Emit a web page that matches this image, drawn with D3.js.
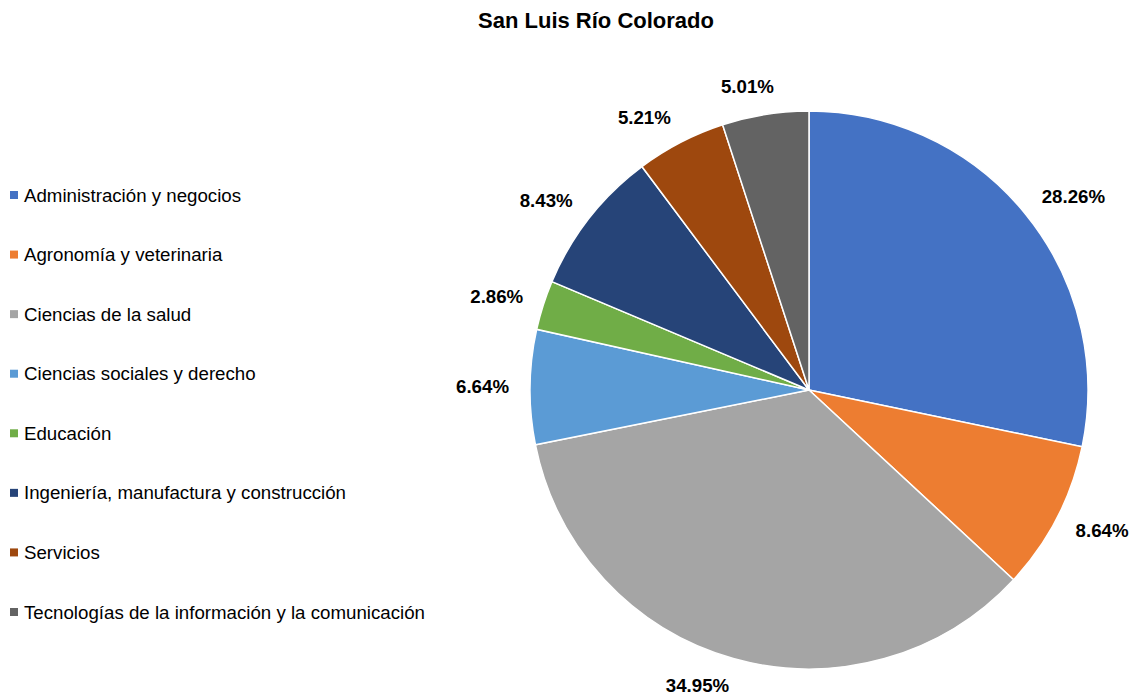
<!DOCTYPE html>
<html>
<head>
<meta charset="utf-8">
<script src="https://cdn.jsdelivr.net/npm/d3@7"></script>
<style>
  body { margin: 0; background: #fff; }
  text { font-family: "Liberation Sans", Arial, sans-serif; }
</style>
</head>
<body>
<div id="container"></div>
<script>
const categories = [
  "Administración y negocios",
  "Agronomía y veterinaria",
  "Ciencias de la salud",
  "Ciencias sociales y derecho",
  "Educación",
  "Ingeniería, manufactura y construcción",
  "Servicios",
  "Tecnologías de la información y la comunicación"
];
const values = [28.26, 8.64, 34.95, 6.64, 2.86, 8.43, 5.21, 5.01];
const colors = ["#4472C4", "#ED7D31", "#A5A5A5", "#5B9BD5", "#70AD47", "#264478", "#9E480E", "#636363"];
const title = "San Luis Río Colorado";

const width = 1135;
const height = 696;
const cx = 809, cy = 390, radius = 279;

const svg = d3.select("#container").append("svg")
  .attr("width", width)
  .attr("height", height);

svg.append("text")
  .attr("x", 596)
  .attr("y", 28)
  .attr("text-anchor", "middle")
  .attr("font-size", 22)
  .attr("font-weight", "bold")
  .attr("fill", "#000")
  .text(title);

const data = categories.map((c, i) => ({ name: c, value: values[i], color: colors[i] }));

const pie = d3.pie().value(d => d.value).sort(null);
const arc = d3.arc().innerRadius(0).outerRadius(radius);
const arcs = pie(data);

const pieG = svg.append("g").attr("transform", `translate(${cx},${cy})`);
pieG.selectAll("path")
  .data(arcs)
  .join("path")
  .attr("d", arc)
  .attr("fill", d => d.data.color)
  .attr("stroke", "#fff")
  .attr("stroke-width", 1.5);

// labels outside, box pushed off the anchor point like Excel does
const labelR = 300;
const labels = pieG.selectAll("text.lbl")
  .data(arcs)
  .join("text")
  .attr("class", "lbl")
  .attr("font-size", 18.7)
  .attr("font-weight", "bold")
  .attr("fill", "#000")
  .attr("text-anchor", "middle")
  .attr("dominant-baseline", "central")
  .text(d => d.data.value.toFixed(2) + "%");

labels.each(function(d) {
  const a = (d.startAngle + d.endAngle) / 2;
  const w = this.getComputedTextLength();
  const h = 14;
  const px = labelR * Math.sin(a);
  const py = -labelR * Math.cos(a);
  const kx = Math.max(-1, Math.min(1, Math.sin(a) * 3.5));
  d3.select(this)
    .attr("x", px + kx * w / 2)
    .attr("y", py - Math.cos(a) * h / 2);
});

// legend
const legendY = d3.scalePoint().domain(categories).range([195, 612]);
const legend = svg.append("g").selectAll("g")
  .data(data)
  .join("g")
  .attr("transform", d => `translate(10,${legendY(d.name)})`);
legend.append("rect")
  .attr("x", 0)
  .attr("y", -4)
  .attr("width", 8)
  .attr("height", 8)
  .attr("fill", d => d.color);
legend.append("text")
  .attr("x", 14)
  .attr("y", 0)
  .attr("dominant-baseline", "central")
  .attr("font-size", 18.7)
  .attr("fill", "#000")
  .text(d => d.name);
</script>
</body>
</html>
